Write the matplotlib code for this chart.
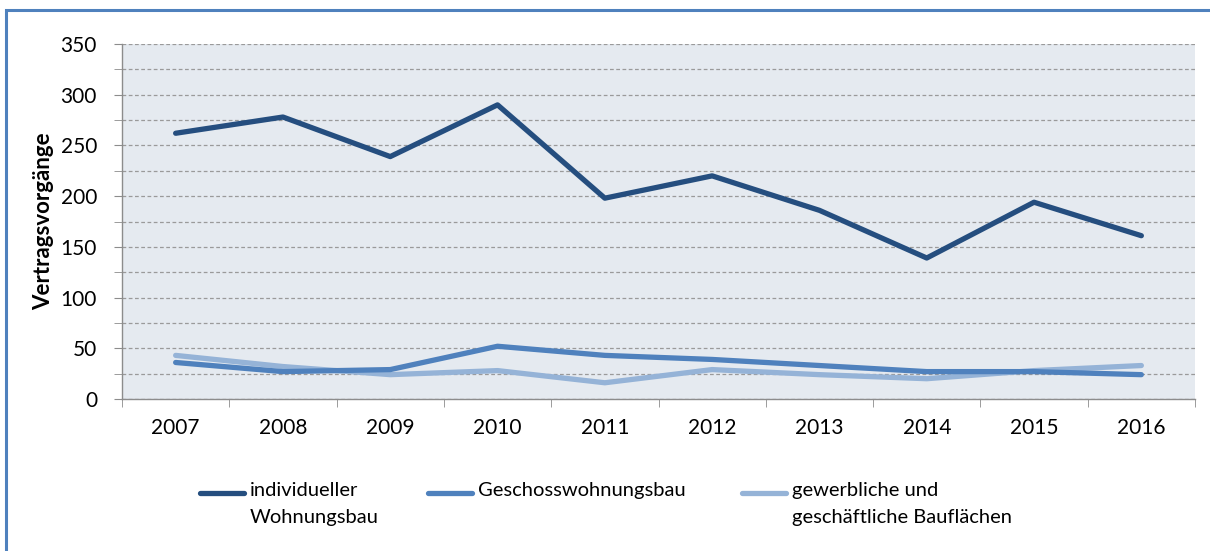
import matplotlib.pyplot as plt
from matplotlib.lines import Line2D
from matplotlib.patches import Rectangle
from matplotlib.ticker import MultipleLocator, FixedLocator

plt.rcParams['font.family'] = ['Lato', 'DejaVu Sans']

# data
years = ['2007', '2008', '2009', '2010', '2011', '2012', '2013', '2014', '2015', '2016']
individuell = [262, 278, 239, 290, 198, 220, 186, 139, 194, 161]
geschoss = [36, 27, 29, 52, 43, 39, 33, 27, 27, 24]
gewerblich = [43, 32, 24, 28, 16, 29, 24, 20, 28, 33]

names = ['individueller\nWohnungsbau', 'Geschosswohnungsbau',
         'gewerbliche und\ngeschäftliche Bauflächen']
colors = ['#254E7F', '#4F81BD', '#95B3D7']

fig = plt.figure(figsize=(12.1, 5.51), dpi=100)
ax = fig.add_axes([122/1210, 1-399/551, (1195-122)/1210, (399-44)/551])
ax.set_facecolor('#E5EAF0')

x = list(range(len(years)))
# light series first so the darker ones sit on top
for vals, c in zip([gewerblich, geschoss, individuell], colors[::-1]):
    ax.plot(x, vals, color=c, lw=3.8, solid_capstyle='round', solid_joinstyle='round', zorder=3)

ax.set_xlim(-0.5, len(years) - 0.5)
ax.set_ylim(0, 350)
ax.yaxis.set_major_locator(MultipleLocator(50))
ax.yaxis.set_minor_locator(MultipleLocator(25))
ax.grid(axis='y', which='both', color='#9A9A9A', ls=(0, (3, 2)), lw=0.9, zorder=1)

ax.xaxis.set_major_locator(FixedLocator(x))
ax.set_xticklabels(years)
ax.xaxis.set_minor_locator(FixedLocator([i - 0.5 for i in range(len(years) + 1)]))
ax.tick_params(axis='x', which='major', length=0, pad=14, labelsize=15)
ax.tick_params(axis='x', which='minor', length=6, color='#8C8C8C', direction='out')
ax.tick_params(axis='y', which='both', length=6, color='#8C8C8C', labelsize=15)
ax.tick_params(axis='y', which='major', pad=12)

for s in ['top', 'right']:
    ax.spines[s].set_visible(False)
for s in ['left', 'bottom']:
    ax.spines[s].set_color('#8C8C8C')
    ax.spines[s].set_linewidth(1)

ax.set_ylabel('Vertragsvorgänge', fontsize=16, fontweight='bold', labelpad=5)

# legend drawn by hand so the handles line up with the first text line
leg_x = [200, 428, 742]
for lx, name, c in zip(leg_x, names, colors):
    fig.add_artist(Line2D([lx/1210, (lx + 44)/1210], [1-493/551, 1-493/551],
                          color=c, lw=3.8, solid_capstyle='round'))
    fig.text((lx + 50)/1210, 1-482/551, name, fontsize=14.5, va='top', ha='left',
             linespacing=1.75)

# blue frame around the chart
fig.add_artist(Rectangle((6/1210, -0.2), 1.2, 1.2 - 10/551, transform=fig.transFigure,
                         fill=False, ec='#4F81BD', lw=2.2))

fig.savefig('out.png', dpi=100)
